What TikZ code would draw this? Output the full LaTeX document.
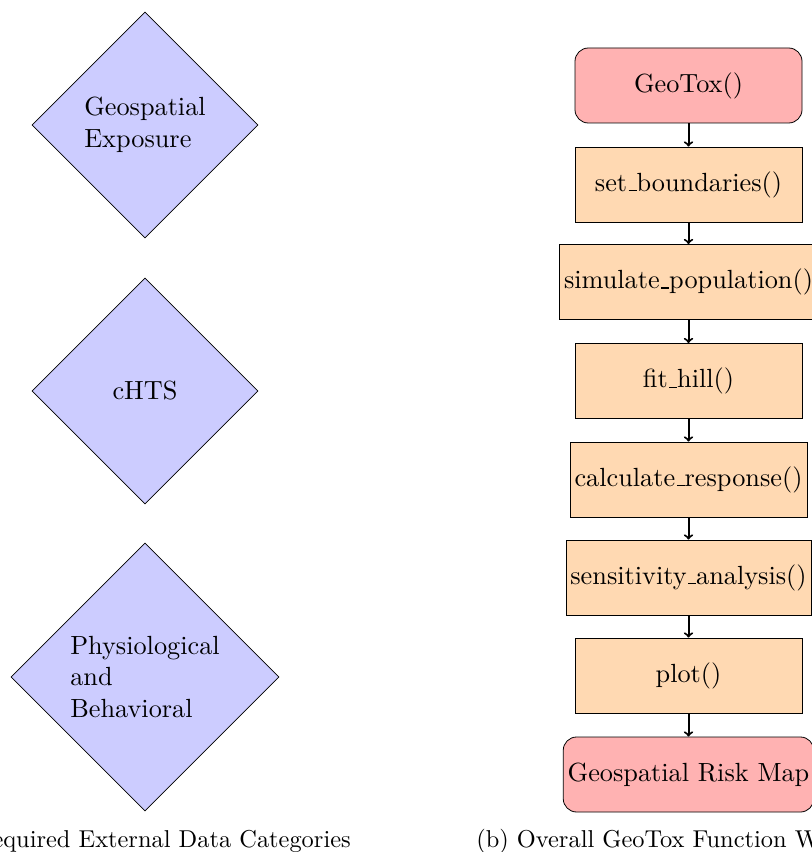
\documentclass[tikz,border=0pt]{standalone}
\usepackage{fontspec}
\setmainfont{lmroman10-regular.otf}
\usetikzlibrary{shapes.geometric}
\newcommand\usc{\leavevmode\kern.06em\vbox{\hrule width .3em height .8pt}}
\tikzset{
  fnt/.style={font=\fontsize{19.7}{23.6}\selectfont},
  datadiamond/.style={fnt, shape=diamond, aspect=1, draw=black, line width=0.6pt, fill=blue!20, inner sep=0pt, align=left},
  funcbox/.style={fnt, rectangle, draw=black, line width=0.6pt, fill=orange!30, minimum width=170.25pt, minimum height=56.25pt},
  endbox/.style={funcbox, fill=red!30, rounded corners=10pt},
  flow/.style={->, line width=1.5pt},
  captxt/.style={font=\fontsize{18.3}{22}\selectfont}
}
\begin{document}
\begin{tikzpicture}[x=0.75pt,y=-0.75pt]
\useasboundingbox (0,0) rectangle (812,852);
\clip (0,0) rectangle (812,852);
% left column: data categories
\node[datadiamond, minimum size=169.5pt] (geo) at (145,125) {Geospatial\\Exposure};
\node[datadiamond, minimum size=169.5pt] (chts) at (145,391) {cHTS};
\node[datadiamond, minimum size=201pt] (phys) at (145,677) {Physiological\\and\\Behavioral};
% right column: workflow
\node[endbox] (gt) at (688.5,85.5) {GeoTox()};
\node[funcbox] (sb) at (688.5,184.5) {set\usc boundaries()};
\node[funcbox] (sp) at (688.5,282) {simulate\usc population()};
\node[funcbox] (fh) at (688.5,381) {fit\usc hill()};
\node[funcbox] (cr) at (688.5,479.5) {calculate\usc response()};
\node[funcbox] (sa) at (688.5,577.5) {sensitivity\usc analysis()};
\node[funcbox] (pl) at (688.5,675.5) {plot()};
\node[endbox] (rm) at (688.5,774.5) {Geospatial Risk Map};
\draw[flow] (gt) -- (sb);
\draw[flow] (sb) -- (sp);
\draw[flow] (sp) -- (fh);
\draw[flow] (fh) -- (cr);
\draw[flow] (cr) -- (sa);
\draw[flow] (sa) -- (pl);
\draw[flow] (pl) -- (rm);
% captions
\node[captxt, anchor=base east, inner sep=0pt] (capa) at (351,847) {(a) Required External Data Categories};
\node[captxt, anchor=base west, inner sep=0pt] (capb) at (476,847) {(b) Overall GeoTox Function Workflow};
\end{tikzpicture}
\end{document}
